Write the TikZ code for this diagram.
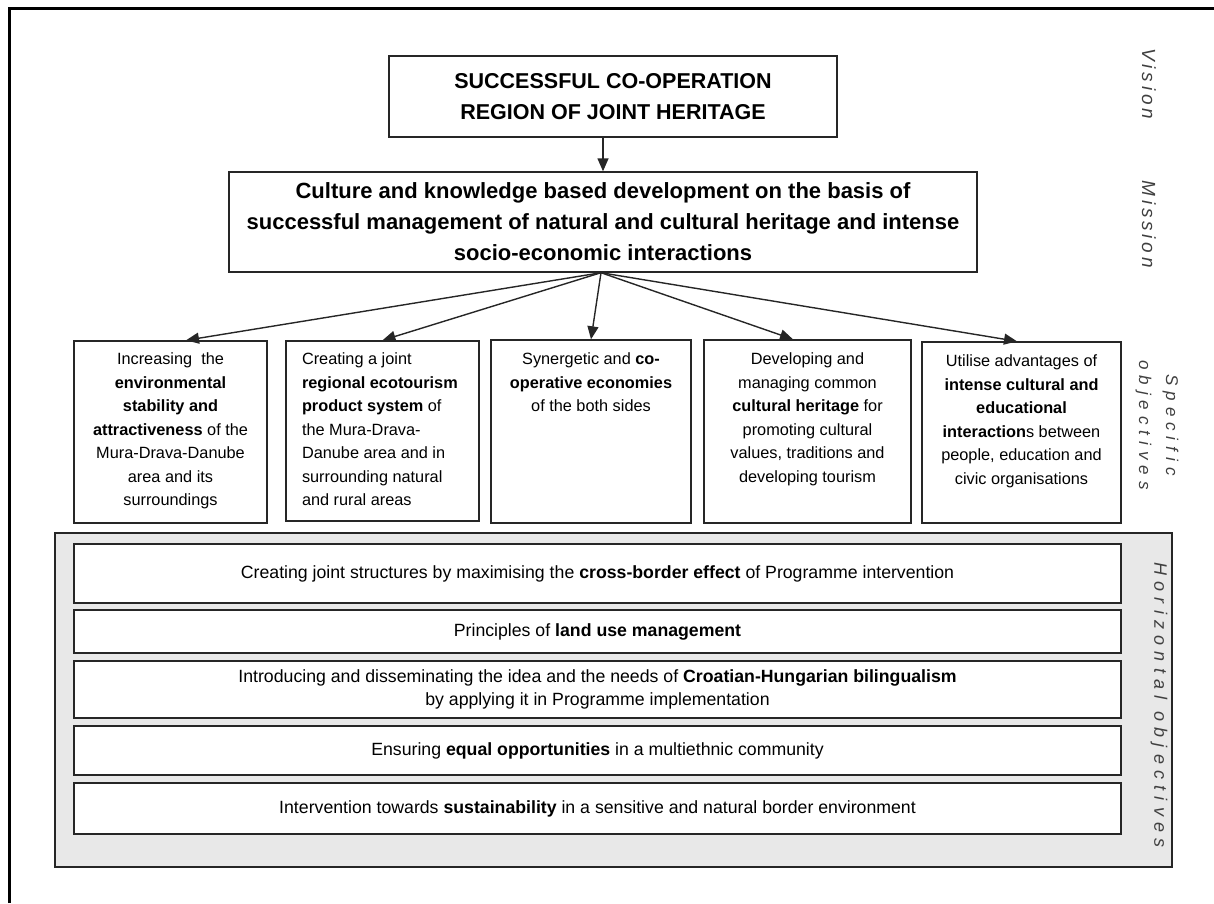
\documentclass[tikz,border=0pt]{standalone}
\usepackage{fontspec}
\setmainfont{Liberation Sans}
\newfontfamily\lblA[LetterSpace=20]{Liberation Sans}
\newfontfamily\lblB[LetterSpace=35]{Liberation Sans}
\usetikzlibrary{arrows.meta,calc}
\definecolor{ln}{HTML}{262626}
\definecolor{grayfill}{HTML}{E8E8E8}
\definecolor{lbl}{HTML}{404040}
\tikzset{
  box/.style={draw=ln, line width=1.4pt, fill=white, inner sep=0pt},
  arr/.style={draw=ln, line width=1.4pt, -{Triangle[length=13pt,width=11pt]}},
  lab/.style={rotate=-90, text=lbl, inner sep=0pt, align=center},
  hbox/.style={box, minimum width=1047pt, align=center, font=\fontsize{17.7}{23}\selectfont},
  sfont/.style={font=\fontsize{16.3}{23.5}\selectfont},
}
\begin{document}
\begin{tikzpicture}[x=1pt,y=-1pt]
\useasboundingbox (0,0) rectangle (1214,903);
% outer frame
\draw[line width=3pt, black] (9.5,903) -- (9.5,8.7) -- (1214,8.7);

% vision and mission
\node[box, minimum width=448pt, minimum height=81pt, align=center,
      font=\fontsize{21.5}{31}\selectfont\bfseries] (vis) at (613,96.5)
  {SUCCESSFUL CO-OPERATION\\REGION OF JOINT HERITAGE};
\node[box, minimum width=748pt, minimum height=100pt, align=center,
      font=\fontsize{22}{31}\selectfont\bfseries] (mis) at (603,222)
  {Culture and knowledge based development on the basis of\\
   successful management of natural and cultural heritage and intense\\
   socio-economic interactions};

% specific objectives
\node[box, sfont] (s1) at (170.5,432) {\parbox[c][182pt][t]{193pt}{\vspace*{12pt}\centering
  Increasing~ the\\
  \textbf{environmental}\\
  \textbf{stability and}\\
  \textbf{attractiveness} of the\\
  Mura-Drava-Danube\\
  area and its\\
  surroundings}};
\node[box, sfont] (s2) at (382.5,431) {\parbox[c][180pt][t]{193pt}{\vspace*{12pt}\raggedright\hspace*{16pt}%
  \begin{minipage}[t]{175pt}\raggedright
  Creating a joint\\
  \textbf{regional ecotourism}\\
  \textbf{product system} of\\
  the Mura-Drava-\\
  Danube area and in\\
  surrounding natural\\
  and rural areas\end{minipage}}};
\node[box, sfont] (s3) at (591,431.5) {\parbox[c][183pt][t]{200pt}{\vspace*{13pt}\centering
  Synergetic and \textbf{co-}\\
  \textbf{operative economies}\\
  of the both sides}};
\node[box, sfont] (s4) at (807.5,431.5) {\parbox[c][183pt][t]{207pt}{\vspace*{13pt}\centering
  Developing and\\
  managing common\\
  \textbf{cultural heritage} for\\
  promoting cultural\\
  values, traditions and\\
  developing tourism}};
\node[box, sfont] (s5) at (1021.5,432.5) {\parbox[c][181pt][t]{199pt}{\vspace*{13pt}\centering
  Utilise advantages of\\
  \textbf{intense cultural and}\\
  \textbf{educational}\\
  \textbf{interaction}s between\\
  people, education and\\
  civic organisations}};

% arrows
\coordinate (hub) at ($(mis.south)+(-2,0)$);
\draw[arr] (vis.south -| mis.north) -- (mis.north);
\draw[arr] (hub) -- ([xshift=15.5pt]s1.north);
\draw[arr] (hub) -- (s2.north);
\draw[arr] (hub) -- (s3.north);
\draw[arr] (hub) -- ([xshift=-14.5pt]s4.north);
\draw[arr] (hub) -- ([xshift=-4.5pt]s5.north);

% horizontal objectives
\node[draw=ln, line width=1.4pt, fill=grayfill, minimum width=1117pt, minimum height=334pt, inner sep=0pt] (hz) at (613.5,700) {};
\node[hbox, minimum height=59pt] (h1) at (597.5,573.5)
  {Creating joint structures by maximising the \textbf{cross-border effect} of Programme intervention};
\node[hbox, minimum height=43pt] (h2) at (597.5,631.5)
  {Principles of \textbf{land use management}};
\node[hbox, minimum height=57pt] (h3) at (597.5,689.5)
  {Introducing and disseminating the idea and the needs of \textbf{Croatian-Hungarian bilingualism}\\
   by applying it in Programme implementation};
\node[hbox, minimum height=49pt] (h4) at (597.5,750.5)
  {Ensuring \textbf{equal opportunities} in a multiethnic community};
\node[hbox, minimum height=51pt] (h5) at (597.5,808.5)
  {Intervention towards \textbf{sustainability} in a sensitive and natural border environment};

% side labels
\node[lab, font=\lblA\itshape\fontsize{19}{22}\selectfont] (lv) at (1149,84) {Vision};
\node[lab, font=\lblA\itshape\fontsize{19}{22}\selectfont] (lm) at (1149,224) {Mission};
\node[lab, font=\lblB\itshape\fontsize{17}{27}\selectfont] (ls) at (1157,425) {Specific\\objectives};
\node[lab, font=\lblB\itshape\fontsize{18}{22}\selectfont] (lh) at (1159,705) {Horizontal objectives};
\end{tikzpicture}
\end{document}
